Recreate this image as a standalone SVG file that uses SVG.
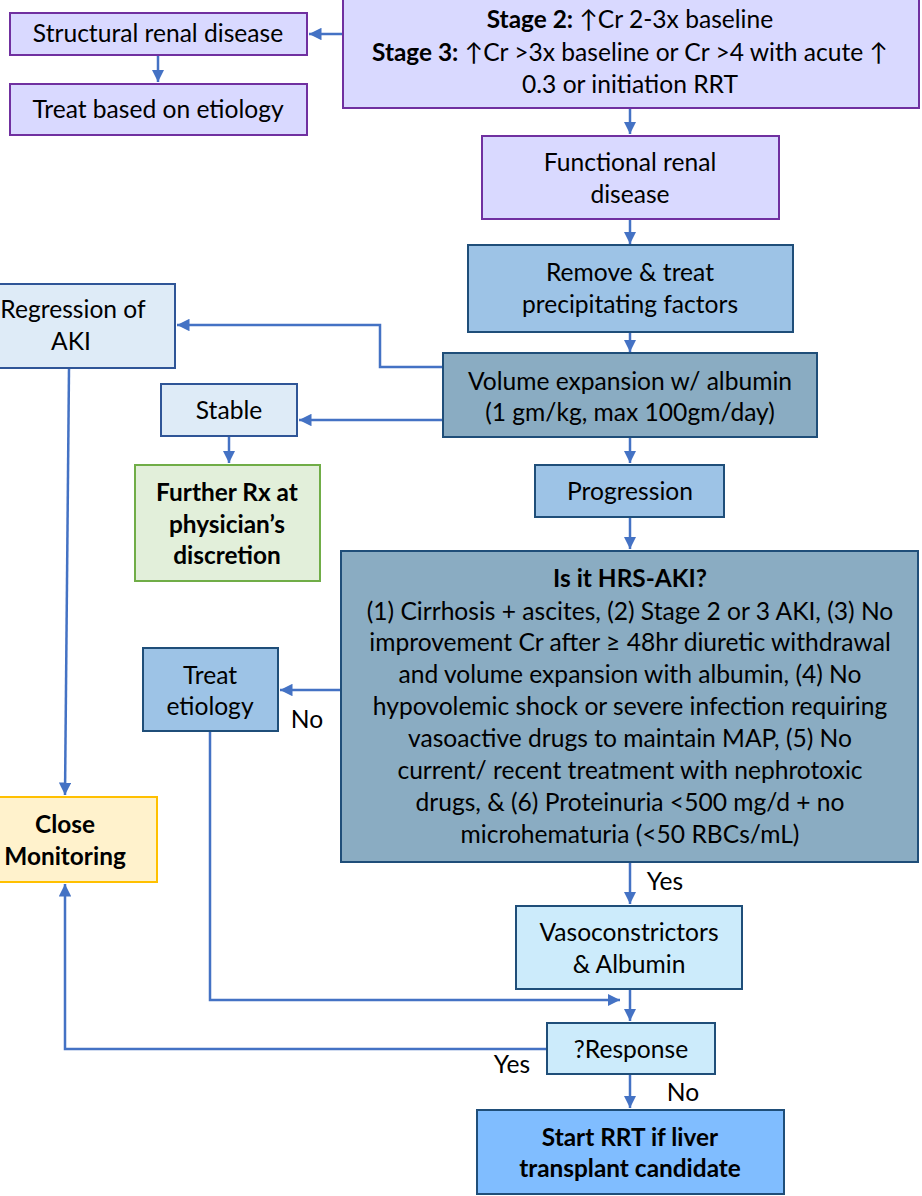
<svg xmlns="http://www.w3.org/2000/svg" width="922" height="1196" viewBox="0 0 922 1196">
<style>
text{font-family:Lato,"Open Sans","Liberation Sans",sans-serif;font-size:24.6px;fill:#000;text-anchor:middle}
.b{font-weight:bold;font-size:24.4px}
.c{fill:none;stroke:#4472c4;stroke-width:2.5}
.purple{fill:#d9d9ff;stroke:#7030a0;stroke-width:2}
.mid{fill:#9dc3e6;stroke:#1f4e79;stroke-width:2}
.dark{fill:#8aacc2;stroke:#1f4e79;stroke-width:2}
.light{fill:#deebf7;stroke:#2f5597;stroke-width:2}
.cyan{fill:#ccebfb;stroke:#1f4e79;stroke-width:2}
.green{fill:#e2efda;stroke:#70ad47;stroke-width:2}
.yellow{fill:#fff2cc;stroke:#ffc000;stroke-width:2}
.strong{fill:#80bdff;stroke:#1f4e79;stroke-width:2}
</style>
<defs>
<marker id="ah" viewBox="0 0 10 10" refX="10" refY="5" markerWidth="5" markerHeight="5" orient="auto" markerUnits="strokeWidth">
<path d="M0,0 L10,5 L0,10 z" fill="#4472c4"/>
</marker>
</defs>
<rect width="922" height="1196" fill="#fff"/>
<g id="connectors">
<path class="c" d="M343,34 H309" marker-end="url(#ah)"/>
<path class="c" d="M158,55 V82" marker-end="url(#ah)"/>
<path class="c" d="M630,108 V134" marker-end="url(#ah)"/>
<path class="c" d="M630,219 V244" marker-end="url(#ah)"/>
<path class="c" d="M630,332 V352" marker-end="url(#ah)"/>
<path class="c" d="M443,367 H380 V325 H177" marker-end="url(#ah)"/>
<path class="c" d="M443,420 H299" marker-end="url(#ah)"/>
<path class="c" d="M229,436 V463" marker-end="url(#ah)"/>
<path class="c" d="M630,437 V463" marker-end="url(#ah)"/>
<path class="c" d="M630,517 V549" marker-end="url(#ah)"/>
<path class="c" d="M341,690 H280" marker-end="url(#ah)"/>
<path class="c" d="M69,368 L65,795" marker-end="url(#ah)"/>
<path class="c" d="M210,731 V1000 H620" marker-end="url(#ah)"/>
<path class="c" d="M630,862 V904" marker-end="url(#ah)"/>
<path class="c" d="M630,989 V1021" marker-end="url(#ah)"/>
<path class="c" d="M547,1049 H65 V884" marker-end="url(#ah)"/>
<path class="c" d="M630,1074 V1108" marker-end="url(#ah)"/>
<text x="307" y="728">No</text>
<text x="665" y="890">Yes</text>
<text x="512" y="1073">Yes</text>
<text x="683" y="1101">No</text>
</g>
<g id="staging">
<rect class="purple" x="343" y="-10" width="576" height="118"/>
<text x="630" y="28"><tspan class="b">Stage 2:</tspan> ↑Cr 2-3x baseline</text>
<text x="630" y="61"><tspan class="b">Stage 3:</tspan> ↑Cr &gt;3x baseline or Cr &gt;4 with acute ↑</text>
<text x="630" y="93">0.3 or initiation RRT</text>
</g>
<g id="structural">
<rect class="purple" x="10" y="13" width="297" height="42"/>
<text x="158" y="42">Structural renal disease</text>
</g>
<g id="treat-based">
<rect class="purple" x="10" y="84" width="297" height="51"/>
<text x="158" y="118">Treat based on etiology</text>
</g>
<g id="functional">
<rect class="purple" x="482" y="136" width="297" height="83"/>
<text x="630" y="171">Functional renal</text>
<text x="630" y="203">disease</text>
</g>
<g id="remove">
<rect class="mid" x="468" y="245" width="325" height="87"/>
<text x="630" y="281">Remove &amp; treat</text>
<text x="630" y="313">precipitating factors</text>
</g>
<g id="volume">
<rect class="dark" x="443" y="353" width="374" height="84"/>
<text x="630" y="390">Volume expansion w/ albumin</text>
<text x="630" y="421">(1 gm/kg, max 100gm/day)</text>
</g>
<g id="regression">
<rect class="light" x="-10" y="284" width="185" height="84"/>
<text x="73" y="318">Regression of</text>
<text x="71" y="350">AKI</text>
</g>
<g id="stable">
<rect class="light" x="161" y="384" width="136" height="52"/>
<text x="229" y="419">Stable</text>
</g>
<g id="further">
<rect class="green" x="135" y="465" width="185" height="116"/>
<text class="b" x="227" y="501">Further Rx at</text>
<text class="b" x="227" y="533">physician’s</text>
<text class="b" x="227" y="564">discretion</text>
</g>
<g id="progression">
<rect class="mid" x="535" y="465" width="189" height="52"/>
<text x="630" y="500">Progression</text>
</g>
<g id="hrs">
<rect class="dark" x="341" y="551" width="577" height="311"/>
<text class="b" x="630" y="587">Is it HRS-AKI?</text>
<text x="630" y="620">(1) Cirrhosis + ascites, (2) Stage 2 or 3 AKI, (3) No</text>
<text x="630" y="651">improvement Cr after ≥ 48hr diuretic withdrawal</text>
<text x="630" y="683">and volume expansion with albumin, (4) No</text>
<text x="630" y="715">hypovolemic shock or severe infection requiring</text>
<text x="630" y="747">vasoactive drugs to maintain MAP, (5) No</text>
<text x="630" y="779">current/ recent treatment with nephrotoxic</text>
<text x="630" y="811">drugs, &amp; (6) Proteinuria &lt;500 mg/d + no</text>
<text x="630" y="843">microhematuria (&lt;50 RBCs/mL)</text>
</g>
<g id="treat-etiology">
<rect class="mid" x="143" y="648" width="135" height="83"/>
<text x="210" y="684">Treat</text>
<text x="210" y="715">etiology</text>
</g>
<g id="close">
<rect class="yellow" x="-10" y="797" width="167" height="85"/>
<text class="b" x="65" y="833">Close</text>
<text class="b" x="65" y="865">Monitoring</text>
</g>
<g id="vaso">
<rect class="cyan" x="516" y="906" width="226" height="83"/>
<text x="629" y="941">Vasoconstrictors</text>
<text x="629" y="973">&amp; Albumin</text>
</g>
<g id="response">
<rect class="cyan" x="547" y="1023" width="168" height="51"/>
<text x="631" y="1058">?Response</text>
</g>
<g id="rrt">
<rect class="strong" x="477" y="1110" width="307" height="84"/>
<text class="b" x="630" y="1146">Start RRT if liver</text>
<text class="b" x="630" y="1177">transplant candidate</text>
</g>
</svg>
